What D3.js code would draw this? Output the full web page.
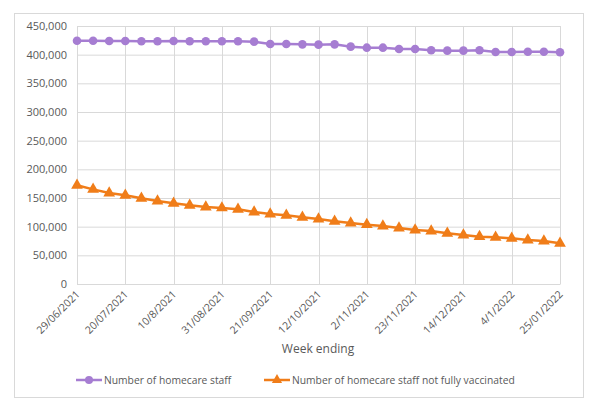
<!DOCTYPE html>
<html><head><meta charset="utf-8">
<script src="https://cdn.jsdelivr.net/npm/d3@7"></script>
<style>body{margin:0;background:#fff;} text{font-family:"Open Sans",sans-serif;}</style>
</head><body>
<svg id="c" width="600" height="413"></svg>
<script>
const weeks = ["29/06/2021","6/07/2021","13/07/2021","20/07/2021","27/07/2021","3/08/2021","10/8/2021","17/08/2021","24/08/2021","31/08/2021","7/09/2021","14/09/2021","21/09/2021","28/09/2021","5/10/2021","12/10/2021","19/10/2021","26/10/2021","2/11/2021","9/11/2021","16/11/2021","23/11/2021","30/11/2021","7/12/2021","14/12/2021","21/12/2021","28/12/2021","4/1/2022","11/01/2022","18/01/2022","25/01/2022"];
const tickLabels = ["29/06/2021","20/07/2021","10/8/2021","31/08/2021","21/09/2021","12/10/2021","2/11/2021","23/11/2021","14/12/2021","4/1/2022","25/01/2022"];
const homecareStaff = [424400,424400,423800,423800,423300,423300,423800,423300,423300,423300,423300,422700,418600,418600,418000,417500,418000,414000,412200,412200,409900,409900,407600,407000,407000,407600,404700,404700,405200,405200,404100];
const notVaccinated = [172100,165100,158700,154700,149500,144800,140700,137300,134300,132600,130300,125600,122100,119800,116300,113400,109300,106400,103500,101200,97700,94200,92400,88400,85500,82600,81400,79700,76700,75000,71000];
const yTicks = [0,50000,100000,150000,200000,250000,300000,350000,400000,450000];
const seriesNames = ["Number of homecare staff","Number of homecare staff not fully vaccinated"];
const colors = ["#a67dd2","#f07d19"];

const svg = d3.select("#c");
svg.append("rect").attr("x",14.5).attr("y",13.5).attr("width",569).attr("height",384)
  .attr("fill","#fff").attr("stroke","#d9d9d9");

const x = d3.scalePoint().domain(weeks).range([77,560]);
const y = d3.scaleLinear().domain([0,450000]).range([284,26]);
const grid = "#d9d9d9", txt = "#595959";

svg.append("g").selectAll("line").data(yTicks).join("line")
  .attr("x1",77).attr("x2",560).attr("y1",d=>y(d)+0.5).attr("y2",d=>y(d)+0.5)
  .attr("stroke",grid).attr("stroke-width",1);
svg.append("g").selectAll("line").data(tickLabels).join("line")
  .attr("x1",d=>Math.round(x(d))+0.5).attr("x2",d=>Math.round(x(d))+0.5).attr("y1",26).attr("y2",284)
  .attr("stroke",grid).attr("stroke-width",1);

const ya = svg.append("g").attr("transform","translate(77,0)")
  .call(d3.axisLeft(y).tickValues(yTicks).tickSize(0).tickPadding(10).tickFormat(d3.format(",")));
ya.select(".domain").remove();
ya.selectAll("text").attr("fill",txt).style("font-size","11px").attr("font-family","Open Sans");

const xa = svg.append("g").attr("transform","translate(0,284)")
  .call(d3.axisBottom(x).tickValues(tickLabels).tickSize(0).tickPadding(0));
xa.select(".domain").attr("stroke",grid);
xa.selectAll("text").attr("fill",txt).style("font-size","10.5px").attr("font-family","Open Sans")
  .attr("text-anchor","end").attr("dy","0").attr("y",0)
  .attr("transform","translate(3,11) rotate(-45)");

svg.append("text").attr("x",318).attr("y",353).attr("text-anchor","middle")
  .attr("fill",txt).style("font-size","12px").text("Week ending");

const line = d3.line().x((d,i)=>x(weeks[i])).y(d=>y(d));
svg.append("path").datum(homecareStaff).attr("d",line).attr("fill","none").attr("stroke",colors[0]).attr("stroke-width",2.5);
svg.append("g").selectAll("circle").data(homecareStaff).join("circle")
  .attr("cx",(d,i)=>x(weeks[i])).attr("cy",d=>y(d)).attr("r",4.3).attr("fill",colors[0]);
svg.append("path").datum(notVaccinated).attr("d",line).attr("fill","none").attr("stroke",colors[1]).attr("stroke-width",2.5);
const tri = d3.symbol().type(d3.symbolTriangle).size(60);
svg.append("g").selectAll("path").data(notVaccinated).join("path")
  .attr("d",tri).attr("transform",(d,i)=>`translate(${x(weeks[i])},${y(d)})`).attr("fill",colors[1]);

const lg = [{x0:76,name:seriesNames[0],c:colors[0],sym:"c"},{x0:264,name:seriesNames[1],c:colors[1],sym:"t"}];
lg.forEach(l=>{
  const g = svg.append("g");
  g.append("line").attr("x1",l.x0).attr("x2",l.x0+26).attr("y1",380).attr("y2",380).attr("stroke",l.c).attr("stroke-width",2.5);
  if(l.sym==="c") g.append("circle").attr("cx",l.x0+13).attr("cy",380).attr("r",4).attr("fill",l.c);
  else g.append("path").attr("d",d3.symbol().type(d3.symbolTriangle).size(45)).attr("transform",`translate(${l.x0+13},380)`).attr("fill",l.c);
  g.append("text").attr("x",l.x0+28).attr("y",384).attr("fill",txt).style("font-size","10.3px").text(l.name);
});
</script>
</body></html>
